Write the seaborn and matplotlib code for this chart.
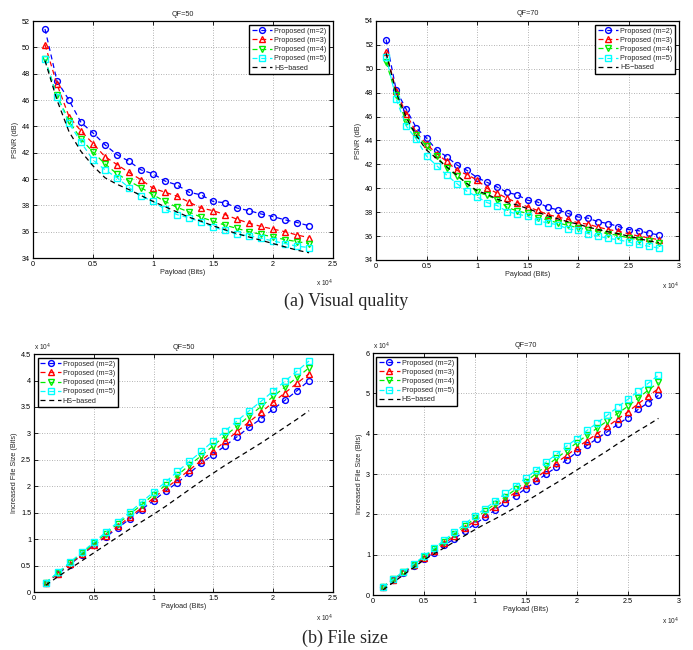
"""Payload vs PSNR / file size, 2x2 panels (MATLAB-like look)."""

import matplotlib
matplotlib.use("Agg")
import matplotlib.pyplot as plt
import seaborn as sns

# ---- data (payload in units of 1e4 bits) ----
payload_50 = [0.1, 0.2, 0.3, 0.4, 0.5, 0.6, 0.7, 0.8, 0.9, 1.0, 1.1, 1.2,
              1.3, 1.4, 1.5, 1.6, 1.7, 1.8, 1.9, 2.0, 2.1, 2.2, 2.3]
payload_70 = [0.1, 0.2, 0.3, 0.4, 0.5, 0.6, 0.7, 0.8, 0.9, 1.0, 1.1, 1.2,
              1.3, 1.4, 1.5, 1.6, 1.7, 1.8, 1.9, 2.0, 2.1, 2.2, 2.3, 2.4,
              2.5, 2.6, 2.7, 2.8]

series_names = ["Proposed (m=2)", "Proposed (m=3)", "Proposed (m=4)",
                "Proposed (m=5)", "HS\u2212based"]

# PSNR, QF=50
psnr50_m2 = [51.4, 47.45, 46.0, 44.3, 43.5, 42.6, 41.85, 41.35, 40.7, 40.4, 39.85, 39.55,
             39.0, 38.8, 38.3, 38.2, 37.8, 37.6, 37.35, 37.15, 36.9, 36.7, 36.45]
psnr50_m3 = [50.2, 47.2, 44.75, 43.65, 42.7, 41.7, 41.1, 40.5, 39.95, 39.3, 39.0, 38.7,
             38.25, 37.8, 37.6, 37.3, 36.95, 36.65, 36.4, 36.2, 36.0, 35.75, 35.55]
psnr50_m4 = [49.1, 46.35, 44.4, 43.05, 42.05, 41.15, 40.4, 39.85, 39.35, 38.8, 38.3, 37.85,
             37.5, 37.1, 36.8, 36.5, 36.25, 36.0, 35.8, 35.6, 35.4, 35.25, 35.1]
psnr50_m5 = [49.1, 46.25, 44.25, 42.8, 41.45, 40.7, 40.1, 39.35, 38.7, 38.3, 37.7, 37.3,
             37.05, 36.75, 36.35, 36.1, 35.8, 35.7, 35.5, 35.3, 35.1, 34.9, 34.8]
psnr50_hs = [49.0, 46.0, 43.6, 42.1, 41.0, 40.1, 39.6, 39.2, 38.75, 38.3, 37.9, 37.5,
             37.1, 36.8, 36.45, 36.15, 35.85, 35.6, 35.35, 35.1, 34.85, 34.6, 34.4]

# PSNR, QF=70
psnr70_m2 = [52.45, 48.2, 46.6, 45.05, 44.2, 43.2, 42.65, 41.95, 41.5, 40.9, 40.5, 40.1,
             39.65, 39.45, 39.0, 38.85, 38.4, 38.2, 37.9, 37.6, 37.5, 37.2, 37.05, 36.8,
             36.55, 36.45, 36.25, 36.1]
psnr70_m3 = [51.4, 48.15, 46.2, 44.65, 43.7, 42.9, 42.25, 41.5, 41.15, 40.7, 40.0, 39.6,
             39.15, 38.8, 38.45, 38.15, 37.8, 37.6, 37.4, 37.1, 37.0, 36.75, 36.55, 36.4,
             36.2, 36.0, 35.85, 35.7]
psnr70_m4 = [50.55, 47.8, 45.55, 44.5, 43.5, 42.7, 41.7, 41.05, 40.4, 39.7, 39.4, 39.05,
             38.4, 38.1, 37.9, 37.55, 37.35, 37.1, 36.9, 36.7, 36.5, 36.35, 36.2, 36.05,
             35.85, 35.7, 35.55, 35.4]
psnr70_m5 = [51.0, 47.45, 45.2, 44.1, 42.7, 41.9, 41.1, 40.4, 39.75, 39.3, 38.8, 38.55,
             38.05, 37.85, 37.65, 37.3, 37.1, 36.95, 36.6, 36.5, 36.2, 36.0, 35.8, 35.7,
             35.5, 35.3, 35.15, 35.0]
psnr70_hs = [51.3, 48.0, 45.9, 44.4, 43.2, 42.5, 41.8, 41.1, 40.4, 39.8, 39.5, 39.1,
             38.8, 38.6, 38.3, 38.0, 37.7, 37.45, 37.2, 37.0, 36.75, 36.55, 36.35, 36.2,
             36.0, 35.8, 35.6, 35.45]

# increased file size (units of 1e4 bits), QF=50
fs50_m2 = [0.17, 0.34, 0.52, 0.70, 0.88, 1.04, 1.21, 1.38, 1.56, 1.73, 1.91, 2.07,
           2.25, 2.44, 2.60, 2.77, 2.94, 3.12, 3.28, 3.46, 3.63, 3.81, 4.00]
fs50_m3 = [0.17, 0.35, 0.53, 0.71, 0.89, 1.06, 1.24, 1.42, 1.59, 1.78, 1.96, 2.13,
           2.31, 2.49, 2.67, 2.85, 3.04, 3.22, 3.40, 3.59, 3.77, 3.95, 4.13]
fs50_m4 = [0.18, 0.36, 0.55, 0.73, 0.92, 1.10, 1.29, 1.47, 1.65, 1.84, 2.02, 2.21,
           2.40, 2.58, 2.77, 2.96, 3.14, 3.33, 3.51, 3.70, 3.88, 4.06, 4.24]
fs50_m5 = [0.18, 0.37, 0.56, 0.75, 0.94, 1.13, 1.32, 1.51, 1.70, 1.89, 2.08, 2.28,
           2.47, 2.66, 2.86, 3.05, 3.24, 3.43, 3.61, 3.80, 3.99, 4.18, 4.37]
fs50_hs = [0.13, 0.29, 0.44, 0.59, 0.74, 0.89, 1.04, 1.19, 1.33, 1.47, 1.62, 1.78,
           1.94, 2.10, 2.25, 2.40, 2.54, 2.68, 2.82, 2.97, 3.12, 3.27, 3.43]

# increased file size, QF=70
fs70_m2 = [0.20, 0.37, 0.54, 0.71, 0.89, 1.05, 1.23, 1.40, 1.58, 1.76, 1.93, 2.11,
           2.29, 2.46, 2.64, 2.82, 3.00, 3.17, 3.35, 3.54, 3.71, 3.88, 4.05, 4.23,
           4.40, 4.60, 4.77, 4.95]
fs70_m3 = [0.20, 0.38, 0.56, 0.74, 0.91, 1.09, 1.28, 1.46, 1.65, 1.84, 2.01, 2.19,
           2.37, 2.55, 2.73, 2.91, 3.09, 3.28, 3.46, 3.65, 3.83, 4.00, 4.18, 4.36,
           4.54, 4.74, 4.93, 5.12]
fs70_m4 = [0.20, 0.39, 0.57, 0.75, 0.94, 1.13, 1.32, 1.51, 1.70, 1.90, 2.08, 2.26,
           2.44, 2.62, 2.81, 3.01, 3.20, 3.39, 3.58, 3.78, 3.96, 4.14, 4.32, 4.50,
           4.68, 4.88, 5.08, 5.27]
fs70_m5 = [0.20, 0.39, 0.58, 0.77, 0.96, 1.16, 1.36, 1.56, 1.76, 1.96, 2.14, 2.33,
           2.52, 2.71, 2.90, 3.10, 3.30, 3.49, 3.69, 3.88, 4.08, 4.27, 4.46, 4.66,
           4.85, 5.05, 5.25, 5.45]
fs70_hs = [0.13, 0.31, 0.50, 0.68, 0.87, 1.02, 1.17, 1.32, 1.47, 1.62, 1.76, 1.89,
           2.03, 2.17, 2.32, 2.47, 2.63, 2.78, 2.94, 3.10, 3.26, 3.42, 3.58, 3.75,
           3.91, 4.07, 4.22, 4.38]

colors = ["#0000ff", "#ff0000", "#00ee00", "#00ffff", "#000000"]
markers = ["o", "^", "v", "s", None]

sns.set_style("ticks")
plt.rcParams["font.family"] = ["Liberation Sans", "DejaVu Sans"]
FS = 5.2


def draw_panel(ax, x, ys, title, ylabel, ylim, yticks, xlim, xticks, legend_loc, y_offset):
    for y, name, c, m in zip(ys, series_names, colors, markers):
        sns.lineplot(x=x, y=y, ax=ax, color=c, marker=m, markersize=4.2,
                     markerfacecolor="none", markeredgecolor=c, markeredgewidth=1.0,
                     linestyle=(0, (4, 3)), linewidth=0.9, label=name)
    ax.set_xlim(*xlim)
    ax.set_ylim(*ylim)
    ax.set_xticks(xticks)
    ax.set_yticks(yticks)
    ax.set_xticklabels([f"{t:g}" for t in xticks])
    ax.set_yticklabels([f"{t:g}" for t in yticks])
    ax.grid(True, linestyle=(0, (1, 2)), color="#9a9a9a", linewidth=0.6)
    ax.tick_params(direction="in", length=3, width=0.6, top=True, right=True,
                   labelsize=FS, pad=2, colors="black")
    for s in ax.spines.values():
        s.set_linewidth(0.9)
        s.set_color("black")
    ax.set_title(title, fontsize=FS, pad=4)
    ax.set_xlabel("Payload (Bits)", fontsize=FS, labelpad=1)
    ax.set_ylabel(ylabel, fontsize=FS, labelpad=2)
    ax.text(1.0, -0.085, "x 10$^4$", transform=ax.transAxes, fontsize=FS - 0.4,
            ha="right", va="top")
    if y_offset:
        ax.text(0.0, 1.005, "x 10$^4$", transform=ax.transAxes, fontsize=FS - 0.4,
                ha="left", va="bottom")
    leg = ax.legend(loc=legend_loc, fontsize=FS, frameon=True, fancybox=False,
                    edgecolor="black", framealpha=1, handlelength=2.8,
                    borderpad=0.4, labelspacing=0.3, handletextpad=0.3,
                    borderaxespad=0.5)
    leg.get_frame().set_linewidth(1.0)


fig = plt.figure(figsize=(6.93, 6.5), dpi=100)
ax1 = fig.add_axes([0.0476, 0.603, 0.433, 0.3646])
ax2 = fig.add_axes([0.5426, 0.600, 0.4372, 0.3677])
ax3 = fig.add_axes([0.0490, 0.0892, 0.4315, 0.366])
ax4 = fig.add_axes([0.5380, 0.0846, 0.4416, 0.3723])

draw_panel(ax1, payload_50, [psnr50_m2, psnr50_m3, psnr50_m4, psnr50_m5, psnr50_hs],
           "QF=50", "PSNR (dB)", (34, 52), [34, 36, 38, 40, 42, 44, 46, 48, 50, 52],
           (0, 2.5), [0, 0.5, 1, 1.5, 2, 2.5], "upper right", False)
draw_panel(ax2, payload_70, [psnr70_m2, psnr70_m3, psnr70_m4, psnr70_m5, psnr70_hs],
           "QF=70", "PSNR (dB)", (34, 54), [34, 36, 38, 40, 42, 44, 46, 48, 50, 52, 54],
           (0, 3), [0, 0.5, 1, 1.5, 2, 2.5, 3], "upper right", False)
draw_panel(ax3, payload_50, [fs50_m2, fs50_m3, fs50_m4, fs50_m5, fs50_hs],
           "QF=50", "Increased File Size (Bits)", (0, 4.5),
           [0, 0.5, 1, 1.5, 2, 2.5, 3, 3.5, 4, 4.5],
           (0, 2.5), [0, 0.5, 1, 1.5, 2, 2.5], "upper left", True)
draw_panel(ax4, payload_70, [fs70_m2, fs70_m3, fs70_m4, fs70_m5, fs70_hs],
           "QF=70", "Increased File Size (Bits)", (0, 6), [0, 1, 2, 3, 4, 5, 6],
           (0, 3), [0, 0.5, 1, 1.5, 2, 2.5, 3], "upper left", True)

serif = ["Liberation Serif", "DejaVu Serif"]
fig.text(0.499, 1 - 301 / 650, "(a) Visual quality", ha="center", va="center",
         fontsize=13, family=serif)
fig.text(0.498, 1 - 638 / 650, "(b) File size", ha="center", va="center",
         fontsize=13, family=serif)

fig.savefig("out.png", dpi=100)
